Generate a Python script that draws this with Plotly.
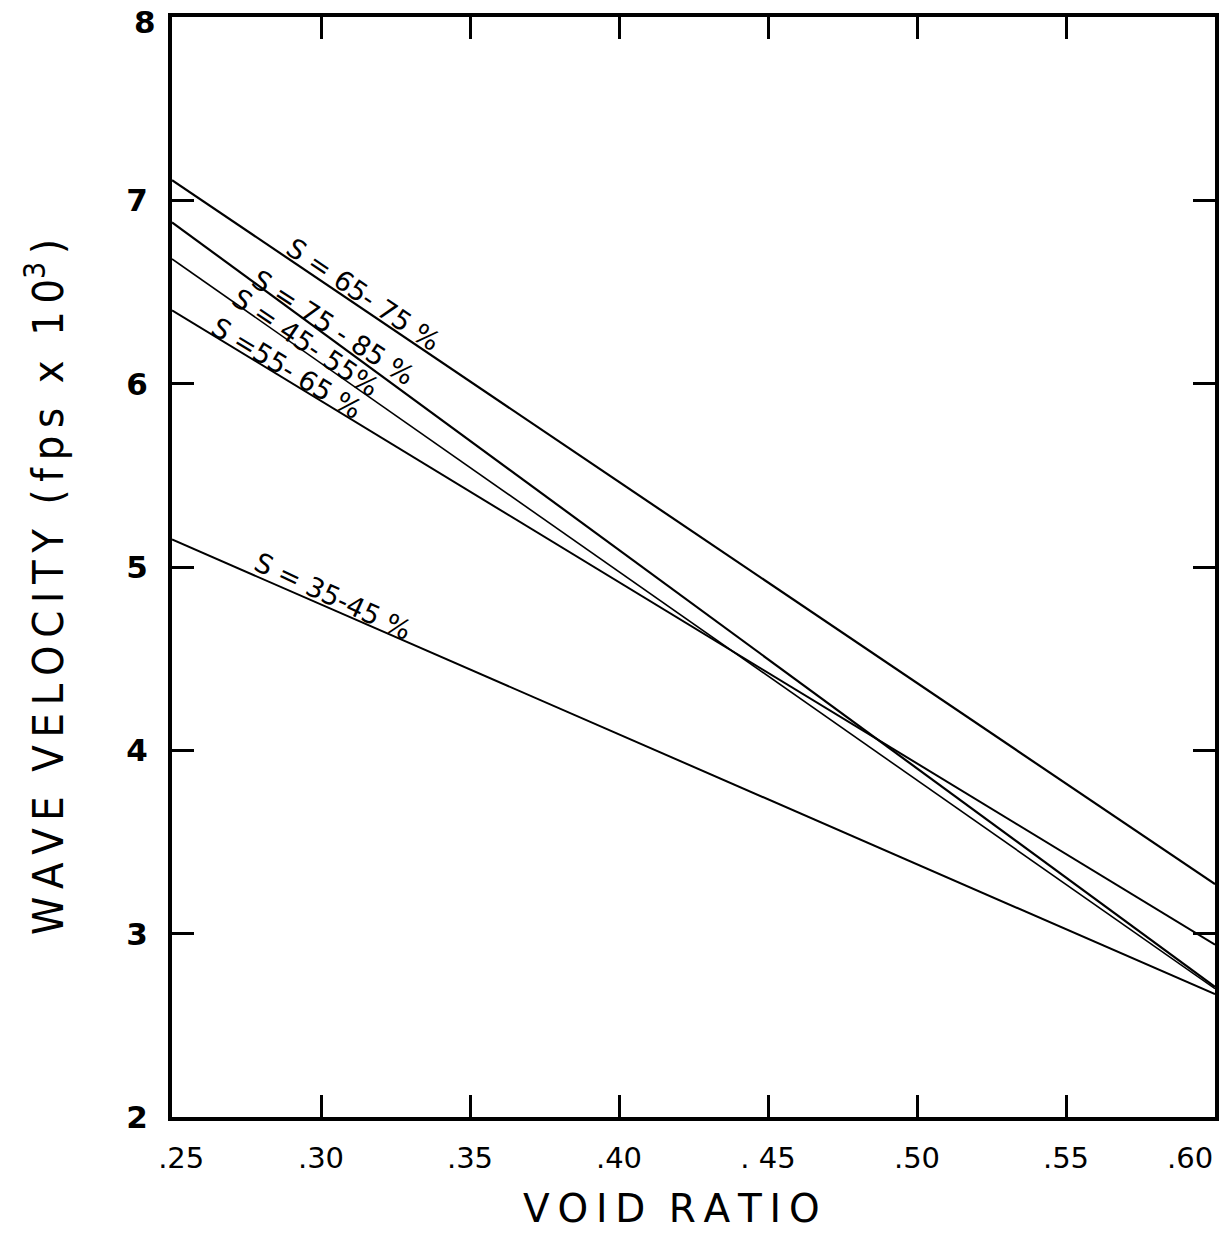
import numpy as np
import plotly.graph_objects as go

# Void ratio endpoints of each straight line
void_ratio = [0.25, 0.60]

# Wave velocity (fps x 10^3) at the two end points, per saturation range
labels = ["S = 65- 75 %", "S = 75 - 85 %", "S = 45- 55%", "S =55- 65 %", "S = 35-45 %"]
v_65_75 = [7.11, 3.27]
v_75_85 = [6.88, 2.71]
v_45_55 = [6.68, 2.70]
v_55_65 = [6.40, 2.94]
v_35_45 = [5.15, 2.67]
series = [v_65_75, v_75_85, v_45_55, v_55_65, v_35_45]
widths = [2.2, 2.2, 1.6, 2.0, 2.0]

# label placement (void ratio along the line), angle, and pixel offset above line
label_x = [0.3160, 0.3059, 0.2962, 0.2902, 0.3057]
label_angle = [34, 33, 34, 31, 25]
label_shift = [18, 17, 13, 15, 15]

NB = "\u00a0"
x_ticks = [0.25, 0.30, 0.35, 0.40, 0.45, 0.50, 0.55, 0.60]
x_ticktext = [NB * 2 + ".25", ".30", ".35", ".40", ". 45", ".50", ".55", ".60"]
y_ticks = [2, 3, 4, 5, 6, 7, 8]
y_ticktext = ["2", "3", "4", "5", "6", "7", "8"]

TS = "\u2009"  # thin space used as letter spacing
y_title = (" " + NB).join(TS.join(w) for w in ["WAVE", "VELOCITY", "(fps", "x", "10"]) + "<sup>3</sup>" + TS + ")"
x_title = (TS * 3).join([TS.join("VOID"), TS.join("RATIO")])

# page body margin removed below; plot area in page px: 172..1215 x 17..1117
W, H = 1222, 1245
ML, MR, MT, MB = 172, 7, 17, 128
pw, ph = W - ML - MR, H - MT - MB

XFONT = dict(family="DejaVu Sans", size=29, color="black")
YFONT = dict(family="DejaVu Sans", size=31, color="black", weight="bold")

fig = go.Figure()
for name, vals, w in zip(labels, series, widths):
    fig.add_trace(go.Scatter(x=void_ratio, y=vals, mode="lines",
                             line=dict(color="black", width=w),
                             name=name, showlegend=False, hoverinfo="skip"))

for name, vals, lx, ang, sh in zip(labels, series, label_x, label_angle, label_shift):
    ly = float(np.interp(lx, void_ratio, vals))
    fig.add_annotation(x=lx, y=ly, text=name, showarrow=False, textangle=ang,
                       yshift=sh, xshift=-sh * 0.3,
                       font=dict(family="DejaVu Sans", size=27, color="black"))

# the two end tick labels sit at the page edges: drawn as annotations, nudged inward
fig.add_annotation(x=x_ticks[-1], xref="x", y=0, yref="paper", text=x_ticktext[-1],
                   showarrow=False, xanchor="right", yanchor="top", yshift=-22,
                   font=XFONT)
fig.add_annotation(x=0, xref="paper", y=y_ticks[-1], yref="y", text=y_ticktext[-1],
                   showarrow=False, xanchor="right", yanchor="middle", xshift=-14,
                   yshift=-5, font=YFONT)
x_ticktext_axis = x_ticktext[:-1] + [""]
y_ticktext_axis = y_ticktext[:-1] + [""]

# axis titles as annotations (paper coords from page pixel positions)
fig.add_annotation(xref="paper", yref="paper", x=(45 - ML) / pw, y=1 - (587 - MT) / ph,
                   text=y_title, textangle=-90, showarrow=False,
                   xanchor="center", yanchor="middle",
                   font=dict(family="DejaVu Sans Condensed", size=43, color="black"))
fig.add_annotation(xref="paper", yref="paper", x=(671 - ML) / pw, y=-(1208 - (H - MB)) / ph,
                   text=x_title, showarrow=False, xanchor="center", yanchor="middle",
                   font=dict(family="DejaVu Sans", size=39, color="black"))

fig.update_layout(
    width=W, height=H,
    margin=dict(l=ML, r=MR, t=MT, b=MB, autoexpand=False),
    paper_bgcolor="white", plot_bgcolor="white",
    showlegend=False,
)
fig.update_xaxes(
    range=[0.25, 0.60], tickmode="array", tickvals=x_ticks, ticktext=x_ticktext_axis,
    ticks="inside", ticklen=22, tickwidth=3, tickcolor="black",
    showline=True, linewidth=4, linecolor="black", mirror="ticks",
    showgrid=False, zeroline=False, ticklabelstandoff=12,
    automargin=False, tickfont=XFONT,
)
fig.update_yaxes(
    range=[2, 8], tickmode="array", tickvals=y_ticks, ticktext=y_ticktext_axis,
    ticks="inside", ticklen=22, tickwidth=3, tickcolor="black",
    showline=True, linewidth=4, linecolor="black", mirror="ticks",
    showgrid=False, zeroline=False, ticklabelstandoff=14,
    automargin=False, tickfont=YFONT,
)

fig.write_html(
    "out.html",
    config={"displayModeBar": False},
    post_script="document.body.style.margin='0';document.body.style.overflow='hidden';",
)
